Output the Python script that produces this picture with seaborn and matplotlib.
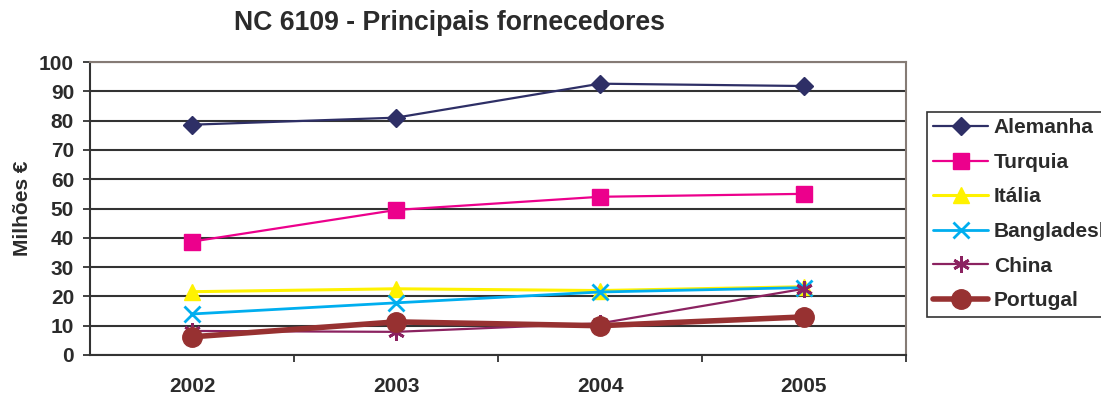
import matplotlib
matplotlib.use("Agg")
import matplotlib.pyplot as plt
import seaborn as sns
import pandas as pd
from matplotlib.ticker import FixedLocator

years = ["2002", "2003", "2004", "2005"]
alemanha = [78.6, 81.0, 92.6, 91.8]
turquia = [38.7, 49.5, 54.0, 55.0]
italia = [21.6, 22.6, 22.0, 23.3]
bangladesh = [14.0, 17.8, 21.5, 23.0]
china = [8.2, 7.9, 10.8, 22.6]
portugal = [6.2, 11.3, 10.0, 13.0]

series = ["Alemanha", "Turquia", "Itália", "Bangladesh", "China", "Portugal"]
values = [alemanha, turquia, italia, bangladesh, china, portugal]
colors = ["#2e2f66", "#ec008c", "#fff200", "#00aeef", "#8b2260", "#973131"]
markers = ["D", "s", "^", "x", (6, 2, 0), "o"]
msizes = [9, 11, 12, 11, 12, 14]
lwidths = [1.6, 1.6, 2.2, 2.0, 1.6, 4.0]

rows = []
for name, vals in zip(series, values):
    for i, (yr, v) in enumerate(zip(years, vals)):
        rows.append({"pais": name, "pos": i, "ano": yr, "valor": v})
df = pd.DataFrame(rows)

sns.set_theme(style="white")
plt.rcParams["font.family"] = ["Liberation Sans", "DejaVu Sans"]
plt.rcParams["font.weight"] = "bold"
TXT = "#2b2b2b"
FS = 15

fig = plt.figure(figsize=(11.01, 3.96), dpi=100)
ax = fig.add_axes([90 / 1101, 1 - 355 / 396, 816 / 1101, 293 / 396])

for name, c, m, ms, lw in zip(series, colors, markers, msizes, lwidths):
    sub = df[df["pais"] == name]
    mew = 2.0 if name in ("Bangladesh", "China") else 1.0
    sns.lineplot(data=sub, x="pos", y="valor", ax=ax, color=c, marker=m,
                 markersize=ms, linewidth=lw, markeredgecolor=c,
                 markeredgewidth=mew, label=name, zorder=3)

ax.set_xlim(-0.5, 3.5)
ax.set_ylim(0, 100)
ax.set_yticks(range(0, 101, 10))
ax.set_xticks(range(len(years)))
ax.set_xticklabels(years)
ax.xaxis.set_minor_locator(FixedLocator([0.5, 1.5, 2.5, 3.5]))
ax.tick_params(axis="x", which="major", length=0, pad=15.5, labelsize=FS, labelcolor=TXT)
ax.tick_params(axis="x", which="minor", length=5, width=1.3, color="#333333", direction="out", bottom=True)
ax.tick_params(axis="y", length=5, width=1.3, color="#333333", direction="out", left=True,
               labelsize=FS, pad=6.5, labelcolor=TXT)
for lbl in ax.get_xticklabels() + ax.get_yticklabels():
    lbl.set_fontweight("bold")

ax.grid(axis="y", color="#333333", linewidth=1.5, zorder=0)
ax.grid(axis="x", visible=False)
ax.set_axisbelow(True)
for side in ("left", "bottom"):
    ax.spines[side].set_color("#333333")
    ax.spines[side].set_linewidth(1.5)
for side in ("top", "right"):
    ax.spines[side].set_color("#857b75")
    ax.spines[side].set_linewidth(1.5)

ax.set_xlabel("")
ax.set_ylabel("Milhões €", fontsize=FS, fontweight="bold", labelpad=5, color=TXT)

fig.text(449 / 1101, 1 - 23 / 396, "NC 6109 - Principais fornecedores",
         ha="center", va="center", fontsize=19.2, fontweight="bold", color=TXT)

leg = ax.legend(loc="upper left", bbox_to_anchor=(927 / 1101, 1 - 112 / 396),
                bbox_transform=fig.transFigure, frameon=True, fancybox=False,
                fontsize=FS, handlelength=2.65, handletextpad=0.25,
                labelspacing=0.75, borderpad=0.3, borderaxespad=0)
leg.get_frame().set_edgecolor("black")
leg.get_frame().set_linewidth(1.2)
for t in leg.get_texts():
    t.set_fontweight("bold")
    t.set_color(TXT)

fig.savefig("out.png", dpi=100)
